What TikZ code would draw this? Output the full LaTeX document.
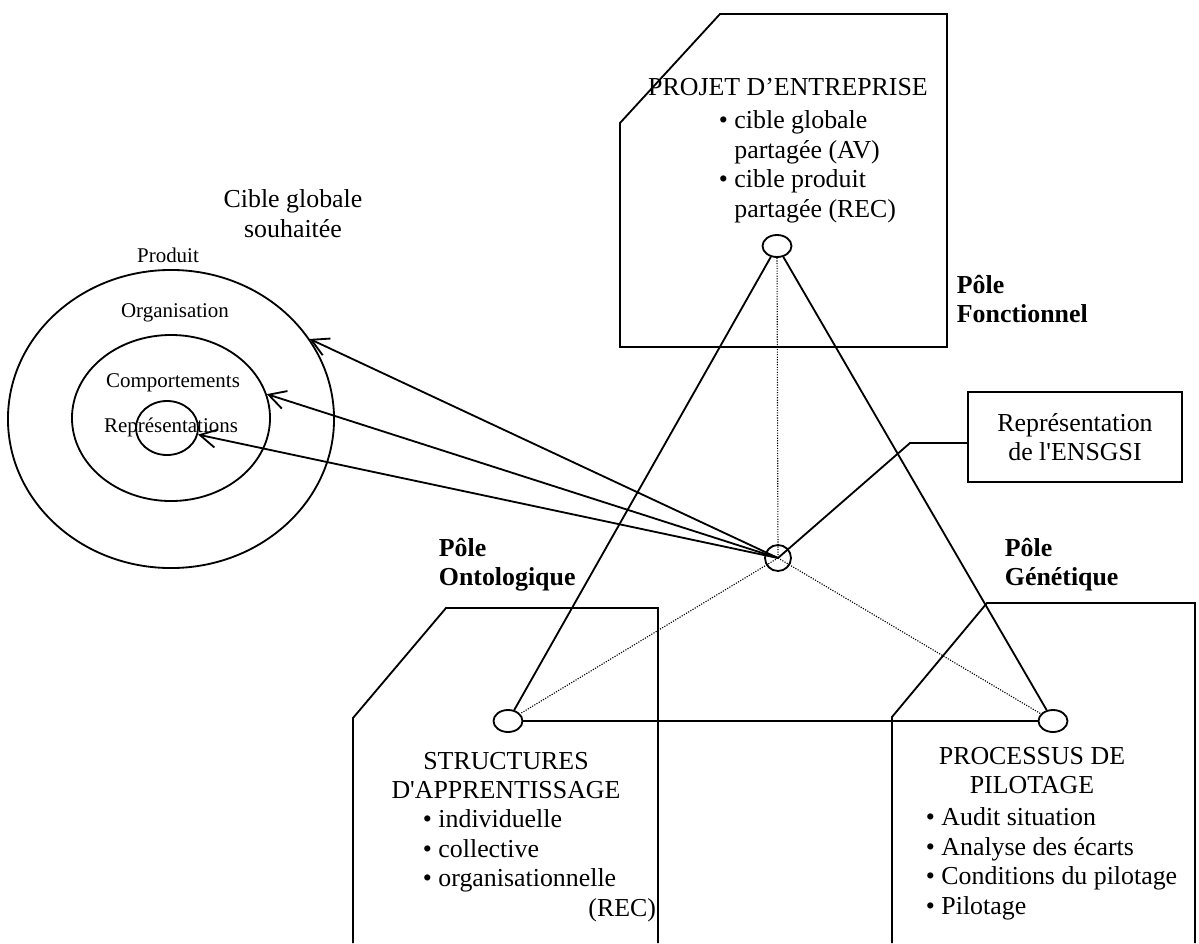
\documentclass[tikz,border=0pt]{standalone}
\usepackage{fontspec}
\setmainfont{Liberation Serif}[Ligatures=TeXOff]
\usetikzlibrary{arrows.meta,positioning,shapes.geometric}

\begin{document}
\begin{tikzpicture}[
  x=0.025cm, y=-0.025cm,
  line width=1.3pt,
  every node/.style={inner sep=0pt},
  txt/.style   = {font=\fontsize{18.4}{21}\selectfont},
  small/.style = {font=\fontsize{14.9}{18}\selectfont},
  pole/.style  = {font=\fontsize{18.4}{21}\selectfont\bfseries,
                  align=left, anchor=north west},
  vtx/.style   = {draw, ellipse, minimum width=0.725cm, minimum height=0.55cm},
  ring/.style  = {draw, ellipse},
  dotl/.style  = {densely dotted, line width=0.8pt},
  arr/.style   = {-{Straight Barb[length=4.2mm,width=4.6mm]}}
]
\useasboundingbox (0,0) rectangle (1199,943);
%% -- Target rings --
\node[ring, minimum width=8.15cm, minimum height=7.45cm] (outer) at (171,419) {};
\node[ring, minimum width=4.95cm, minimum height=4.15cm] (middle) at (171,418) {};
\node[ring, minimum width=1.55cm, minimum height=1.35cm] (inner) at (167,428) {};
\node[txt, anchor=north, align=center] (cible) at (293,189) {Cible globale\\souhaitée};
\node[small, anchor=base] (lprod) at (168,262) {Produit};
\node[small, anchor=base] (lorg)  at (175,317) {Organisation};
\node[small, anchor=base] (lcomp) at (173,387) {Comportements};
\node[small, anchor=base] (lrep)  at (171,432) {Représentations};
%% -- Pole boxes --
\draw (620,347) -- (620,123) -- (720,14) -- (947,14) -- (947,347) -- cycle;
\draw (353,943) -- (353,718) -- (446,608) -- (658,608) -- (658,943);
\draw (892,943) -- (892,717) -- (987,603) -- (1195,603) -- (1195,943);
\node[txt, anchor=base] (projet) at (788,95) {PROJET D’ENTREPRISE};
\node[txt, anchor=north west, align=left] (projlist) at (718,110)
  {\textbullet\ cible globale\\\hphantom{\textbullet\ }partagée (AV)\\
   \textbullet\ cible produit\\\hphantom{\textbullet\ }partagée (REC)};
\node[txt, anchor=north, align=center] (struct) at (506,751) {STRUCTURES\\D'APPRENTISSAGE};
\node[txt, anchor=north west, align=flush left, text width=5.825cm] (structlist) at (422,809)
  {\textbullet\ individuelle\\\textbullet\ collective\\
   \textbullet\ organisationnelle\\\hspace*{\fill}(REC)};
\node[txt, anchor=north, align=center] (proc) at (1032,746) {PROCESSUS DE\\PILOTAGE};
\node[txt, anchor=north west, align=left] (proclist) at (925,807)
  {\textbullet\ Audit situation\\\textbullet\ Analyse des écarts\\
   \textbullet\ Conditions du pilotage\\\textbullet\ Pilotage};
\node[pole] (pfonc) at (956,274)  {Pôle\\Fonctionnel};
\node[pole] (pgen)  at (1004,537) {Pôle\\Génétique};
\node[pole] (pont)  at (438,537)  {Pôle\\Ontologique};
%% -- Triangle --
\node[vtx] (pf) at (777,246) {};
\node[vtx] (po) at (508,721) {};
\node[vtx] (pg) at (1053,721) {};
\node[draw, circle, minimum size=0.65cm] (ctr) at (778,558) {};
\draw (pf) -- (po);
\draw (pf) -- (pg);
\draw (po) -- (pg);
\draw[dotl] (pf) -- (ctr.center);
\draw[dotl] (ctr.center) -- (po);
\draw[dotl] (ctr.center) -- (pg);
%% -- ENSGSI box --
\node[draw, txt, align=center, minimum width=5.35cm, minimum height=2.25cm]
  (rep) at (1075,437) {Représentation\\de l'ENSGSI};
\coordinate (kink) at (910,443);
\draw (ctr.center) -- (kink) -- (rep.west |- kink);
%% -- Arrows to rings --
\draw[arr] (ctr.center) -- (outer.30);
\draw[arr] (ctr.center) -- (middle.14);
\draw[arr] (ctr.center) -- (inner.-12);
\end{tikzpicture}
\end{document}
